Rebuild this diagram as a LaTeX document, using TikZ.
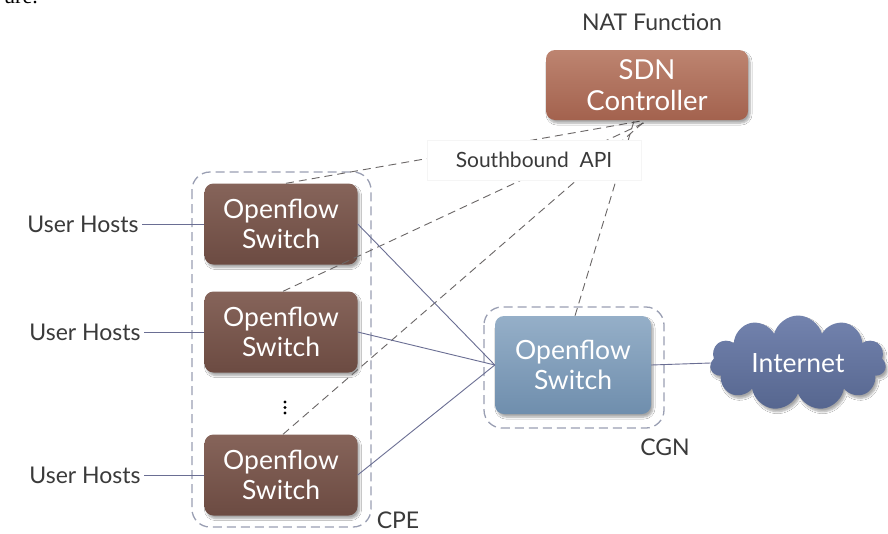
\documentclass[tikz,border=0pt]{standalone}
\usepackage{fontspec}
\setmainfont{Lato}
\newfontfamily\serifpart{Liberation Serif}
\usetikzlibrary{shapes.symbols,shadows.blur}

\definecolor{txtgray}{HTML}{3A3A3A}
\definecolor{brownA}{HTML}{86645A}
\definecolor{brownB}{HTML}{6C4B42}
\definecolor{ctrlA}{HTML}{BD8470}
\definecolor{ctrlB}{HTML}{A3624E}
\definecolor{blueA}{HTML}{95AFC8}
\definecolor{blueB}{HTML}{6F8EAD}
\definecolor{cloudA}{HTML}{7383AE}
\definecolor{cloudB}{HTML}{56668F}
\definecolor{linkcol}{HTML}{6A6E93}
\definecolor{ctlline}{HTML}{6A6666}
\definecolor{groupcol}{HTML}{9A9FB3}

\tikzset{
  box/.style={rounded corners=9pt, minimum width=153pt, minimum height=81pt,
    align=center, text=white, font=\fontsize{26.5}{30}\selectfont,
    blur shadow={shadow blur steps=6, shadow xshift=2pt, shadow yshift=-3pt, shadow opacity=35}},
  ofswitch/.style={box, top color=brownA, bottom color=brownB},
  cgnswitch/.style={box, minimum width=156pt, minimum height=98pt, top color=blueA, bottom color=blueB},
  ctrl/.style={box, minimum width=202pt, minimum height=70pt, top color=ctrlA, bottom color=ctrlB,
    font=\fontsize{27.5}{31}\selectfont},
  label/.style={text=txtgray, font=\fontsize{23}{26}\selectfont},
  group/.style={draw=groupcol, line width=1.3pt, dash pattern=on 9pt off 5pt, rounded corners=18pt},
  link/.style={draw=linkcol, line width=0.9pt},
  ctl/.style={draw=ctlline, line width=0.9pt, dash pattern=on 8pt off 5pt},
}

\begin{document}
\begin{tikzpicture}[x=1pt,y=-1pt]
\useasboundingbox (0,0) rectangle (888,533);
\fill[white] (0,0) rectangle (888,533);

% fragment of the preceding caption line
\node[anchor=base west, inner sep=0, font=\serifpart\fontsize{22}{24}\selectfont] (frag) at (4,3) {ure.};

% dashed grouping frames
\draw[group] (192,172) rectangle (371,527);
\draw[group] (484,307) rectangle (664,428);

% switches
\node[ofswitch] (s1) at (281,224) {Openflow\\Switch};
\node[ofswitch] (s2) at (281,332) {Openflow\\Switch};
\node[ofswitch] (s3) at (281,475) {Openflow\\Switch};
\node[cgnswitch] (cgn) at (573,365) {Openflow\\Switch};

% vertical ellipsis between the switches
\fill[black] (285,402) circle (1.6) (285,407.5) circle (1.6) (285,413) circle (1.6);

% southbound control channels, ending under the controller
\coordinate (c1) at (641,121);
\coordinate (c2) at (648,121);
\coordinate (c3) at (645,121);
\coordinate (c4) at (634,121);
\draw[ctl] (s1.north) ++(5,0) -- (c1);
\draw[ctl] (s2.north) ++(2,0) -- (c2);
\draw[ctl] (s3.north) ++(2,0) -- (c3);
\draw[ctl] (cgn.north) ++(2,0) -- (c4);

% controller and its labels
\node[label] (nat) at (652,22) {NAT Function};
\node[ctrl] (sdn) at (647,85) {SDN\\Controller};

% internet cloud
\node[cloud, cloud puffs=11, aspect=2.1, minimum width=176pt, minimum height=92pt,
      top color=cloudA, bottom color=cloudB, text=white, font=\fontsize{26.5}{30}\selectfont,
      blur shadow={shadow blur steps=6, shadow xshift=2pt, shadow yshift=-3pt, shadow opacity=35}]
      (net) at (798,363) {Internet};

% host labels
\node[label] (h1) at (83,224) {User Hosts};
\node[label] (h2) at (85,332) {User Hosts};
\node[label] (h3) at (85,475) {User Hosts};

% group labels
\node[label, inner sep=0pt] (cpe) at (398,520) {CPE};
\node[label] (cgnl) at (665,447) {CGN};

% data links
\draw[link] (h1.east) -- (s1.west);
\draw[link] (h2.east) -- (s2.west);
\draw[link] (h3.east) -- (s3.west);
\draw[link] (s1.east) -- (cgn.west);
\draw[link] (s2.east) -- (cgn.west);
\draw[link] (s3.east) -- (cgn.west);
\draw[link] (cgn.east) -- (net.west);

% control channel label, drawn over the channels
\node[text=txtgray, fill=white, draw=black!4, minimum width=214pt, minimum height=40pt,
      font=\fontsize{21}{24}\selectfont] (sb) at (534,160) {Southbound\ \ API};
\end{tikzpicture}
\end{document}
